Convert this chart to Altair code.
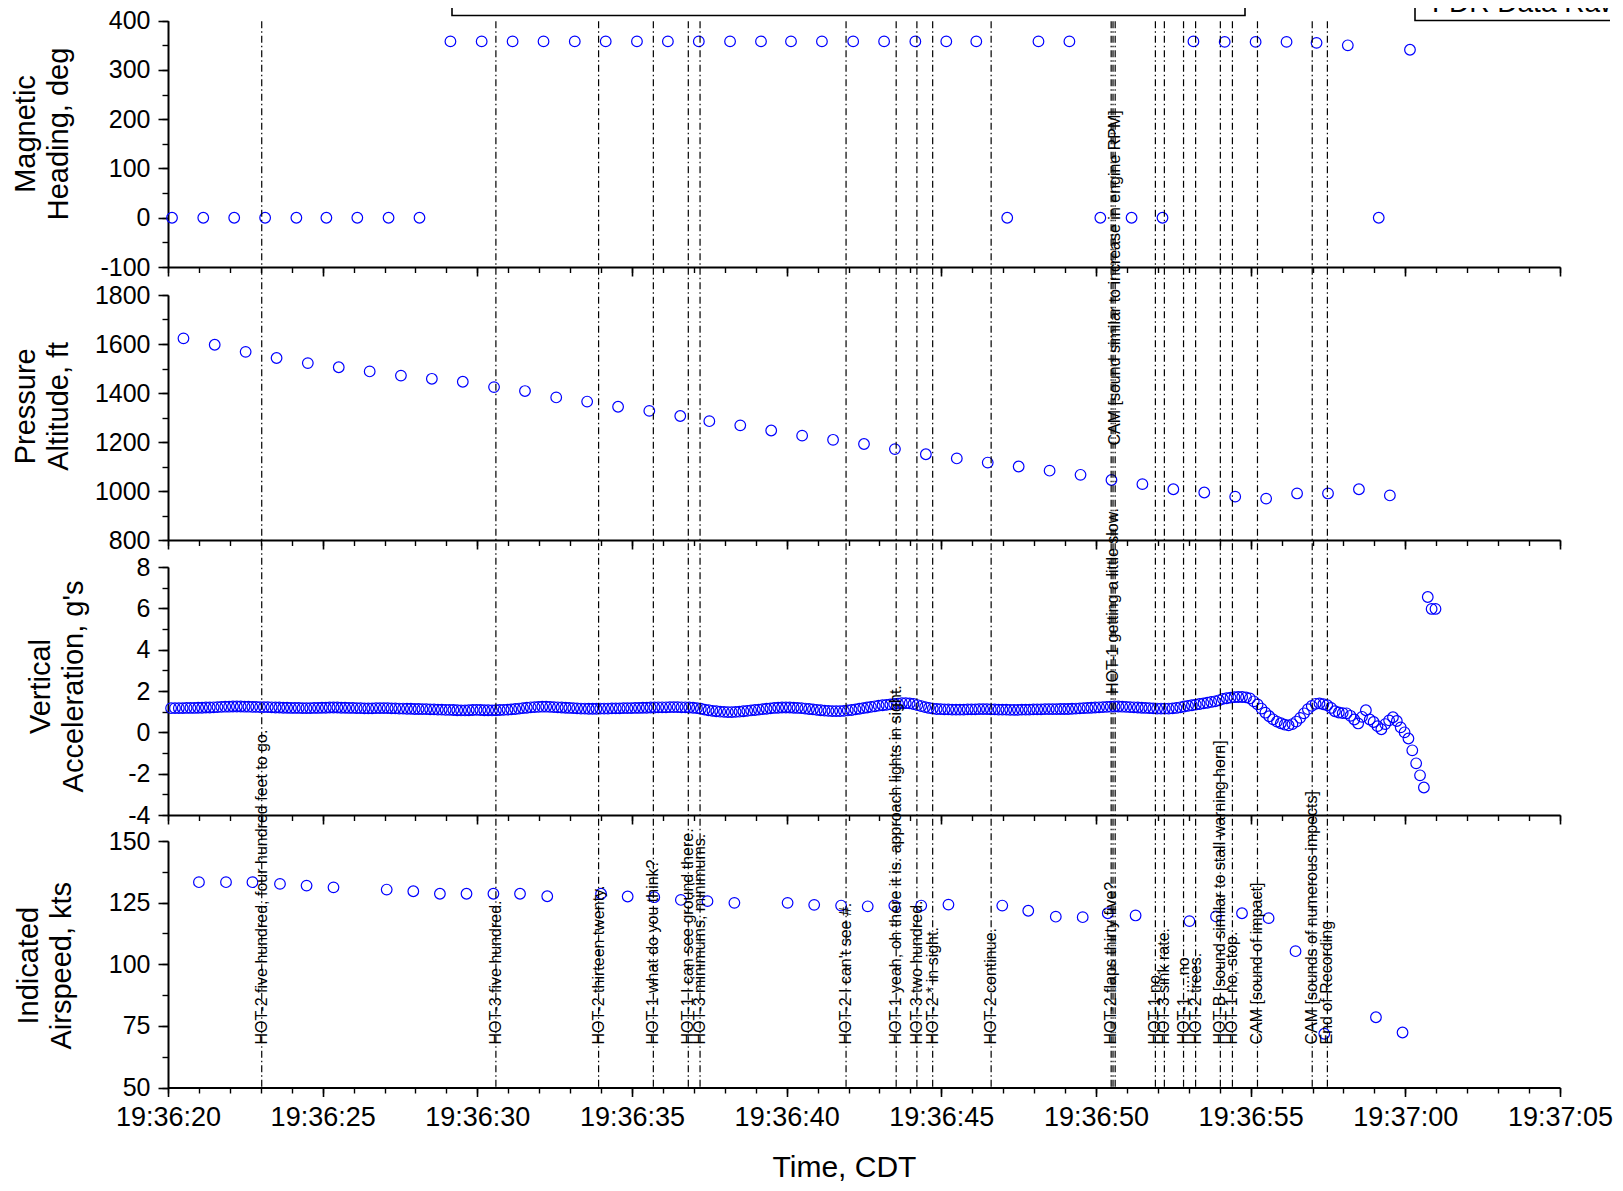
import altair as alt
import pandas as pd

FONT = "Liberation Sans"
BLUE = "#0000ff"

# ---------------- data ----------------
TIME_TICKS = ["19:36:20", "19:36:25", "19:36:30", "19:36:35", "19:36:40",
              "19:36:45", "19:36:50", "19:36:55", "19:37:00", "19:37:05"]
X_MAJOR = [0, 5, 10, 15, 20, 25, 30, 35, 40, 45]
X_MINOR = [0, 1, 2, 3, 4, 5, 6, 7, 8, 9, 10, 11, 12, 13, 14, 15, 16, 17, 18, 19, 20, 21, 22,
           23, 24, 25, 26, 27, 28, 29, 30, 31, 32, 33, 34, 35, 36, 37, 38, 39, 40, 41, 42, 43, 44, 45]

# Magnetic heading (seconds after 19:36:20, deg)
HDG_T = [0.13, 1.14, 2.14, 3.14, 4.15, 5.12, 6.12, 7.13, 8.13, 9.13, 10.14, 11.14, 12.14, 13.15,
         14.15, 15.16, 16.16, 17.16, 18.17, 19.17, 20.14, 21.14, 22.15, 23.15, 24.16, 25.16, 26.13,
         27.13, 28.14, 29.14, 30.14, 31.15, 32.15, 33.15, 34.16, 35.16, 36.16, 37.13, 38.14, 39.14, 40.15]
HDG_V = [0, 0, 0, 0, 0, 0, 0, 0, 0,
         358, 358, 358, 358, 358, 358, 358, 358, 358, 358, 358, 358, 358, 358, 358, 358, 358, 358,
         0, 358, 358, 0, 0, 0, 358, 357, 357, 357, 355, 350, 0, 341]

# Pressure altitude (ft)
ALT_T = [0.5, 1.51, 2.51, 3.51, 4.52, 5.52, 6.52, 7.53, 8.53, 9.53, 10.54, 11.54, 12.55, 13.55,
         14.55, 15.56, 16.56, 17.5, 18.5, 19.5, 20.5, 21.5, 22.5, 23.5, 24.5, 25.5, 26.5, 27.5,
         28.5, 29.5, 30.5, 31.5, 32.5, 33.5, 34.5, 35.5, 36.5, 37.5, 38.5, 39.5]
ALT_V = [1623, 1597, 1568, 1543, 1522, 1505, 1488, 1471, 1458, 1446, 1424, 1408, 1382, 1365,
         1344, 1327, 1306, 1285, 1268, 1247, 1226, 1209, 1192, 1171, 1150, 1133, 1116, 1100,
         1083, 1066, 1045, 1028, 1007, 994, 977, 969, 990, 990, 1007, 982]

# Vertical acceleration (g), sampled 8 times a second starting at 0.1 s
VA_START = 0.1
VA_STEP = 0.125
VA_V = [
    1.17, 1.17, 1.17, 1.17, 1.18, 1.18, 1.18, 1.19,
    1.19, 1.20, 1.20, 1.21, 1.22, 1.23, 1.24, 1.24,
    1.25, 1.25, 1.25, 1.24, 1.24, 1.23, 1.23, 1.22,
    1.22, 1.22, 1.21, 1.20, 1.20, 1.19, 1.19, 1.18,
    1.18, 1.18, 1.17, 1.17, 1.17, 1.18, 1.18, 1.19,
    1.19, 1.20, 1.20, 1.20, 1.19, 1.19, 1.18, 1.18,
    1.17, 1.17, 1.16, 1.16, 1.16, 1.17, 1.17, 1.17,
    1.17, 1.16, 1.16, 1.15, 1.15, 1.14, 1.14, 1.13,
    1.13, 1.12, 1.12, 1.11, 1.11, 1.10, 1.10, 1.09,
    1.09, 1.08, 1.07, 1.06, 1.06, 1.07, 1.08, 1.09,
    1.08, 1.07, 1.07, 1.06, 1.07, 1.08, 1.09, 1.10,
    1.11, 1.13, 1.15, 1.17, 1.19, 1.21, 1.22, 1.23,
    1.24, 1.24, 1.23, 1.22, 1.21, 1.20, 1.19, 1.18,
    1.17, 1.16, 1.15, 1.15, 1.14, 1.14, 1.14, 1.15,
    1.15, 1.15, 1.16, 1.16, 1.16, 1.17, 1.17, 1.17,
    1.18, 1.18, 1.19, 1.19, 1.20, 1.20, 1.21, 1.21,
    1.21, 1.22, 1.22, 1.22, 1.21, 1.21, 1.20, 1.19,
    1.17, 1.14, 1.10, 1.07, 1.04, 1.02, 1.00, 0.99,
    0.98, 0.98, 0.99, 1.00, 1.02, 1.04, 1.06, 1.08,
    1.10, 1.12, 1.14, 1.16, 1.18, 1.19, 1.20, 1.20,
    1.20, 1.19, 1.18, 1.17, 1.15, 1.13, 1.11, 1.09,
    1.07, 1.05, 1.04, 1.03, 1.03, 1.03, 1.04, 1.06,
    1.08, 1.11, 1.14, 1.17, 1.20, 1.23, 1.26, 1.29,
    1.31, 1.33, 1.35, 1.37, 1.39, 1.41, 1.41, 1.40,
    1.37, 1.32, 1.27, 1.22, 1.18, 1.15, 1.13, 1.12,
    1.11, 1.11, 1.10, 1.10, 1.10, 1.10, 1.11, 1.11,
    1.11, 1.12, 1.12, 1.12, 1.11, 1.11, 1.10, 1.10,
    1.10, 1.09, 1.09, 1.09, 1.10, 1.10, 1.10, 1.11,
    1.11, 1.11, 1.12, 1.12, 1.12, 1.12, 1.13, 1.13,
    1.13, 1.14, 1.15, 1.16, 1.17, 1.18, 1.19, 1.20,
    1.21, 1.22, 1.23, 1.24, 1.25, 1.25, 1.24, 1.23,
    1.22, 1.21, 1.20, 1.19, 1.18, 1.17, 1.16, 1.15,
    1.15, 1.15, 1.15, 1.16, 1.18, 1.21, 1.25, 1.28,
    1.31, 1.34, 1.37, 1.40, 1.43, 1.47, 1.50, 1.55,
    1.62, 1.65, 1.68, 1.70, 1.71, 1.71, 1.69, 1.64,
    1.50, 1.35, 1.15, 0.95, 0.78, 0.63, 0.52, 0.44,
    0.37, 0.34, 0.40, 0.52, 0.70, 0.92, 1.12, 1.28,
    1.38, 1.40, 1.36, 1.31, 1.18, 1.02, 0.96, 0.93,
    0.92, 0.80, 0.62, 0.43, 0.75, 1.07, 0.62, 0.50,
    0.30, 0.15, 0.40, 0.58, 0.73, 0.55, 0.24, 0.00,
    -0.30, -0.87, -1.50, -2.08, -2.67, 6.55, 5.97, 5.97,
]
VA_T = [round(VA_START + VA_STEP * i, 3) for i in range(len(VA_V))]

# Indicated airspeed (kts)
IAS_T = [1.0, 1.875, 2.73, 3.62, 4.48, 5.35, 7.07, 7.93, 8.79, 9.65, 10.52, 11.38, 12.26, 14.0,
         14.86, 15.72, 16.58, 17.44, 18.31, 20.03, 20.89, 21.76, 22.62, 23.48, 24.35, 25.23,
         26.97, 27.81, 28.7, 29.57, 30.38, 31.28, 33.02, 33.88, 34.72, 35.58, 36.45, 37.38,
         39.05, 39.91]
IAS_V = [133.3, 133.3, 133.3, 132.6, 131.9, 131.2, 130.3, 129.6, 128.6, 128.6, 128.6, 128.6,
         127.6, 128.6, 127.5, 127.2, 126.1, 125.6, 124.9, 124.9, 124.1, 123.8, 123.5, 123.8,
         123.8, 124.2, 123.8, 121.7, 119.3, 119.1, 120.7, 119.8, 117.5, 119.4, 120.7, 118.7,
         105.3, 71.8, 78.5, 72.3]

# CVR events
EVENT_T = [3.03, 10.60, 13.92, 15.69, 16.82, 17.20, 21.92, 23.54, 24.21, 24.72, 26.61,
           30.49, 30.55, 30.62, 31.92, 32.21, 32.83, 33.22, 34.02, 34.41, 35.22, 36.99, 37.48]
EVENT_TEXT = [
    "HOT-2 five hundred, four hundred feet to go.",
    "HOT-3 five hundred.",
    "HOT-2 thirteen twenty.",
    "HOT-1 what do you think?",
    "HOT-1 I can see ground there.",
    "HOT-3 minimums, minimums.",
    "HOT-2 I can't see #.",
    "HOT-1 yeah, oh there it is. approach lights in sight.",
    "HOT-3 two hundred.",
    "HOT-2 * in sight.",
    "HOT-2 continue.",
    "HOT-2 flaps thirty five?",
    "HOT-1 getting a little slow.",
    "CAM [sound similar to increase in engine RPM]",
    "HOT-1 no.",
    "HOT-3 sink rate.",
    "HOT-1 ....no",
    "HOT-2 trees.",
    "HOT-B [sound similar to stall warning horn]",
    "HOT-1 no, stop.",
    "CAM [sound of impact]",
    "CAM [sounds of numerous impects]",
    "End of Recording",
]
MID_TEXT = ["HOT-1 getting a little slow."]
HIGH_TEXT = ["CAM [sound similar to increase in engine RPM]"]
BOX_TEXT = ["FDR Data Raw"]

# ---------------- layout ----------------
PLOT_W = 1392
LABEL_EXPR = "[" + ",".join("'%s'" % s for s in TIME_TICKS) + "][round(datum.value / 5)]"


def x_scale():
    return alt.Scale(domain=[0, 45], range=[0, PLOT_W], nice=False, zero=False)


def x_axes(gap, bottom):
    common = dict(orient="bottom", grid=False, offset=-gap, tickColor="black",
                  domainColor="black", labelFlush=False, labelOverlap=False)
    if bottom:
        major = alt.Axis(values=X_MAJOR, tickSize=9, tickWidth=1.6, domainWidth=2,
                         labels=True, labelExpr=LABEL_EXPR, labelFont=FONT, labelFontSize=27,
                         labelColor="black", labelPadding=8,
                         title="Time, CDT", titleFont=FONT, titleFontSize=30,
                         titleFontWeight="normal", titleColor="black",
                         titleBaseline="alphabetic", titleX=676, titleY=89,
                         titleAlign="center", **common)
    else:
        major = alt.Axis(values=X_MAJOR, tickSize=9, tickWidth=1.6, domainWidth=2,
                         labels=False, title=None, **common)
    minor = alt.Axis(values=X_MINOR, tickSize=5.5, tickWidth=1.4, domain=False,
                     labels=False, title=None, **common)
    return major, minor


def y_axes(major_vals, minor_vals, title, tx, ty):
    major = alt.Axis(orient="left", values=major_vals, labelExpr="'' + datum.value",
                     grid=False, tickSize=10, tickWidth=1.6, tickColor="black",
                     domainColor="black", domainWidth=2, labelFont=FONT, labelFontSize=25,
                     labelColor="black", labelPadding=8, labelFlush=False, labelOverlap=False,
                     title=title, titleFont=FONT, titleFontSize=29, titleFontWeight="normal",
                     titleColor="black", titleLineHeight=33, titleX=tx, titleY=ty,
                     titleAngle=270, titleBaseline="middle", titleAlign="center")
    minor = alt.Axis(orient="left", values=minor_vals, grid=False, tickSize=6, tickWidth=1.4,
                     tickColor="black", domain=False, labels=False, title=None)
    return major, minor


def panel(df, ydom, ymaj, ymin, title, tx, ty, top, h, gap, view_w, bottom=False, extra=()):
    xs = x_scale()
    ys = alt.Scale(domain=ydom, range=[top + h, top], nice=False, zero=False)
    xmaj, xmin = x_axes(gap, bottom)
    yma, ymi = y_axes(ymaj, ymin, title, tx, ty)
    base = alt.Chart(df)
    minor = base.mark_point(opacity=0).encode(
        x=alt.X("t:Q", scale=xs, axis=xmin),
        y=alt.Y("v:Q", scale=ys, axis=ymi),
    )
    pts = base.mark_point(shape="circle", filled=False, color=BLUE, size=113,
                          strokeWidth=1.2, opacity=1).encode(
        x=alt.X("t:Q", scale=xs, axis=xmaj),
        y=alt.Y("v:Q", scale=ys, axis=yma),
    )
    layer = alt.layer(minor, pts, *extra).resolve_axis(x="independent", y="independent")
    return layer.properties(width=view_w, height=top + h + gap)


# panel geometry (pixels)
HEAD_TOP, HEAD_H, HEAD_GAP = 12.7, 246.3, 28
ALT_H, ALT_GAP = 245, 27
VA_H, VA_GAP = 248, 25.5
IAS_H = 246.5
ABOVE_IAS = (HEAD_TOP + HEAD_H + HEAD_GAP) + (ALT_H + ALT_GAP) + (VA_H + VA_GAP)

hdg_df = pd.DataFrame({"t": HDG_T, "v": HDG_V})
alt_df = pd.DataFrame({"t": ALT_T, "v": ALT_V})
va_df = pd.DataFrame({"t": VA_T, "v": VA_V})
ias_df = pd.DataFrame({"t": IAS_T, "v": IAS_V})
ev_df = pd.DataFrame({"time": EVENT_T, "label": EVENT_TEXT})
low_df = ev_df[~ev_df["label"].isin(MID_TEXT + HIGH_TEXT)]
mid_df = ev_df[ev_df["label"].isin(MID_TEXT)]
high_df = ev_df[ev_df["label"].isin(HIGH_TEXT)]
box_df = pd.DataFrame({"label": BOX_TEXT})

# boxes peeking in at the top
box_center = alt.Chart(box_df).mark_rect(fill="white", stroke="black", strokeWidth=1.6,
                                         clip=True).encode(
    x=alt.value(284), x2=alt.value(1077), y=alt.value(-30), y2=alt.value(7.5))
box_right = alt.Chart(box_df).mark_rect(fill="white", stroke="black", strokeWidth=1.6,
                                        clip=True).encode(
    x=alt.value(1247), x2=alt.value(1600), y=alt.value(-30), y2=alt.value(12.5))
box_text = alt.Chart(box_df).mark_text(align="left", baseline="alphabetic", font=FONT,
                                       fontSize=28, color="black", clip=True).encode(
    x=alt.value(1264), y=alt.value(3.5), text="label:N")


def ev_text(df, ypix):
    return alt.Chart(df).mark_text(angle=270, align="left", baseline="middle", font=FONT,
                                   fontSize=16, color="black").encode(
        x=alt.X("time:Q", scale=x_scale(), axis=None),
        y=alt.value(ypix),
        text="label:N",
    )


ev_rules = alt.Chart(ev_df).mark_rule(color="black", strokeWidth=1.2,
                                      strokeDash=[7, 3, 1.5, 3]).encode(
    x=alt.X("time:Q", scale=x_scale(), axis=None),
    y=alt.value(-(ABOVE_IAS - HEAD_TOP)),
    y2=alt.value(IAS_H),
)

head = panel(hdg_df, [-100, 400], [-100, 0, 100, 200, 300, 400],
             [-100, -50, 0, 50, 100, 150, 200, 250, 300, 350, 400],
             ["Magnetic", "Heading, deg"], -143, 125.5,
             HEAD_TOP, HEAD_H, HEAD_GAP, PLOT_W + 50,
             extra=(box_center, box_right, box_text))
altp = panel(alt_df, [800, 1800], [800, 1000, 1200, 1400, 1600, 1800],
             [800, 900, 1000, 1100, 1200, 1300, 1400, 1500, 1600, 1700, 1800],
             ["Pressure", "Altitude, ft"], -143, 110.8,
             0, ALT_H, ALT_GAP, PLOT_W)
vap = panel(va_df, [-4, 8], [-4, -2, 0, 2, 4, 6, 8],
            [-4, -3, -2, -1, 0, 1, 2, 3, 4, 5, 6, 7, 8],
            ["Vertical", "Acceleration, g's"], -128, 119,
            0, VA_H, VA_GAP, PLOT_W)
iasp = panel(ias_df, [50, 150], [50, 75, 100, 125, 150],
             [50, 62.5, 75, 87.5, 100, 112.5, 125, 137.5, 150],
             ["Indicated", "Airspeed, kts"], -140, 124.2,
             0, IAS_H, 0, PLOT_W, bottom=True,
             extra=(ev_text(low_df, 203.5), ev_text(mid_df, -147), ev_text(high_df, -395.5),
                    ev_rules))

chart = alt.vconcat(head, altp, vap, iasp, spacing=0, bounds="flush").resolve_scale(
    x="independent", y="independent"
).properties(
    padding={"left": 3, "top": 0, "right": 0, "bottom": 0},
    background="white",
).configure(font=FONT).configure_view(stroke=None)

chart.save("out.html", embed_options={"renderer": "svg", "actions": False})
